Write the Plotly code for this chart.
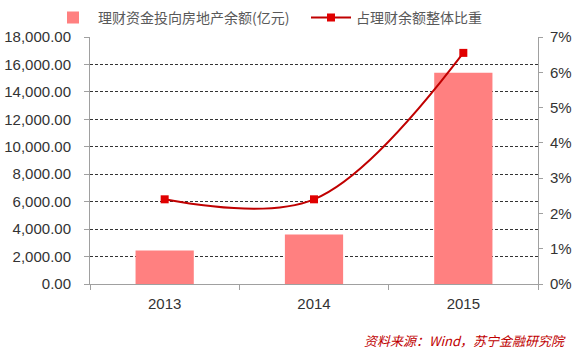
import plotly.graph_objects as go

years = ["2013", "2014", "2015"]
balance = [2450, 3600, 15400]          # 理财资金投向房地产余额(亿元)
share = [2.4, 2.4, 6.55]               # 占理财余额整体比重 (%)
left_ticks = [0, 2000, 4000, 6000, 8000, 10000, 12000, 14000, 16000, 18000]
left_labels = [f"{v:,.2f}" for v in left_ticks]
right_ticks = [0, 1, 2, 3, 4, 5, 6, 7]
right_labels = [f"{v}%" for v in right_ticks]

fig = go.Figure()
fig.add_trace(go.Bar(
    x=years, y=balance, name="理财资金投向房地产余额(亿元)",
    marker=dict(color="#FF8080", line=dict(width=0)), width=0.39,
    legend="legend",
))
fig.add_trace(go.Scatter(
    x=years, y=share, name="占理财余额整体比重", yaxis="y2",
    mode="lines+markers",
    line=dict(color="#C00000", width=2, shape="spline", smoothing=1.0),
    marker=dict(symbol="square", size=8, color="#E00000"),
    legend="legend2",
))

axis_font = dict(family="Liberation Sans, Arial, sans-serif", size=15, color="#333333")
legend_font = dict(family="Noto Sans CJK SC", size=14, color="#595959")
fig.update_layout(
    width=579, height=358,
    margin=dict(l=90, r=41, t=37, b=74, autoexpand=False),
    paper_bgcolor="white", plot_bgcolor="white",
    bargap=0.61,
    showlegend=True,
    legend=dict(orientation="h", x=48 / 579, xanchor="left", y=0.995, yanchor="top",
                yref="container", xref="container", font=legend_font,
                itemwidth=40, bgcolor="rgba(0,0,0,0)"),
    legend2=dict(orientation="h", x=306 / 579, xanchor="left", y=0.995, yanchor="top",
                 yref="container", xref="container", font=legend_font,
                 itemwidth=40, bgcolor="rgba(0,0,0,0)"),
    xaxis=dict(type="category", showline=True, linecolor="#A0A0A0", linewidth=1,
               ticks="outside", tickson="boundaries", ticklen=5, tickcolor="#A0A0A0",
               tickfont=axis_font, showgrid=False, zeroline=False, automargin=False,
               ticklabelstandoff=6),
    yaxis=dict(range=[0, 18000], tickvals=left_ticks, ticktext=left_labels,
               showline=True, linecolor="#A0A0A0", linewidth=1,
               ticks="outside", ticklen=5, tickcolor="#A0A0A0", tickfont=axis_font,
               ticklabelstandoff=10, automargin=False,
               showgrid=True, gridcolor="#333333", griddash="3px,2px", gridwidth=1,
               zeroline=False),
    yaxis2=dict(range=[0, 7], tickvals=right_ticks, ticktext=right_labels,
                overlaying="y", side="right",
                showline=True, linecolor="#A0A0A0", linewidth=1,
                ticks="outside", ticklen=4, tickcolor="#A0A0A0", tickfont=axis_font,
                ticklabelstandoff=4, automargin=False,
                showgrid=False, zeroline=False),
)
fig.add_annotation(
    text="资料来源：Wind，苏宁金融研究院", xref="paper", yref="paper",
    x=(568 - 90) / 448, xanchor="right", y=(284 - 340) / 247, yanchor="middle",
    showarrow=False,
    font=dict(family="Noto Sans CJK SC", size=13, color="#C00000", style="italic"),
)
fig.write_html("out.html", config={"displayModeBar": False},
               post_script="document.body.style.margin='0';")
